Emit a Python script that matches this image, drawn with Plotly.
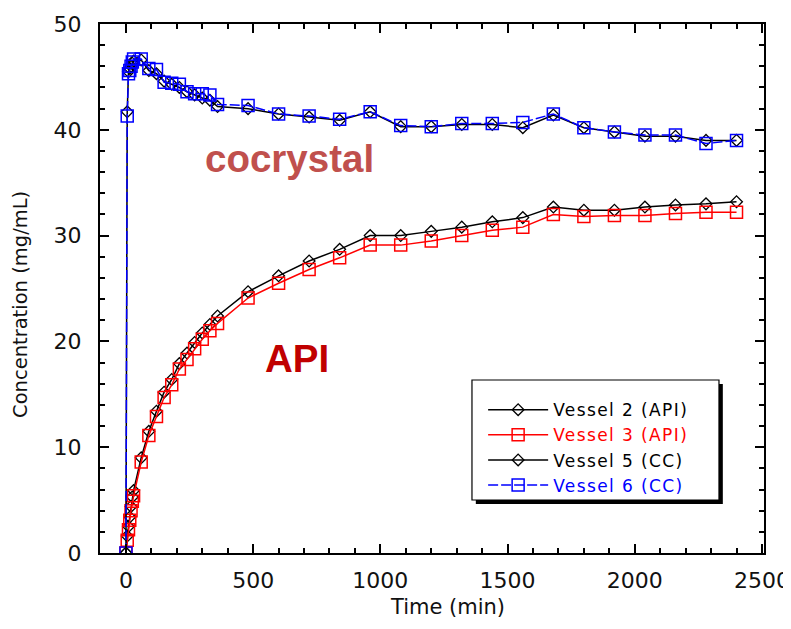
import plotly.graph_objects as go

time = [0, 5, 10, 15, 20, 25, 30, 60, 90, 120, 150, 180, 210, 240, 270, 300, 330, 360,
        480, 600, 720, 840, 960, 1080, 1200, 1320, 1440, 1560, 1680, 1800, 1920, 2040,
        2160, 2280, 2400]

vessel2_api = [0, 1.6, 2.5, 3.4, 4.4, 5.3, 5.9, 9.0, 11.5, 13.4, 15.2, 16.4, 17.9, 18.9,
               19.9, 20.8, 21.6, 22.4, 24.7, 26.2, 27.6, 28.7, 30.0, 30.0, 30.4, 30.8,
               31.3, 31.7, 32.7, 32.4, 32.4, 32.7, 32.9, 33.0, 33.2]
vessel3_api = [0, 1.2, 2.2, 3.1, 4.0, 4.9, 5.4, 8.6, 11.1, 12.9, 14.7, 15.9, 17.4, 18.3,
               19.3, 20.2, 21.0, 21.7, 24.1, 25.5, 26.8, 27.9, 29.1, 29.1, 29.5, 30.0,
               30.5, 30.8, 32.0, 31.8, 31.9, 31.9, 32.1, 32.2, 32.2]
vessel5_cc = [0, 41.7, 45.5, 45.8, 46.0, 46.3, 46.5, 46.6, 45.6, 45.3, 44.6, 44.3, 44.0,
              43.6, 43.3, 43.0, 42.8, 42.2, 42.0, 41.5, 41.2, 40.9, 41.7, 40.3, 40.3,
              40.5, 40.5, 40.2, 41.4, 40.2, 39.8, 39.4, 39.4, 39.0, 39.0]
vessel6_cc = [0, 41.3, 45.3, 45.6, 46.0, 46.4, 46.7, 46.7, 45.8, 45.7, 44.5, 44.4, 44.3,
              43.6, 43.4, 43.4, 43.3, 42.4, 42.3, 41.5, 41.3, 41.0, 41.7, 40.4, 40.3,
              40.6, 40.6, 40.7, 41.5, 40.2, 39.8, 39.5, 39.5, 38.7, 39.0]

names = ["Vessel 2 (API)", "Vessel 3 (API)", "Vessel 5 (CC)", "Vessel 6 (CC)"]
x_title = "Time (min)"
y_title = "Concentration (mg/mL)"

FONT = "DejaVu Sans, Verdana, sans-serif"
BOLD = "Liberation Sans, Arial, sans-serif"


def legend_name(text, color):
    return f"<span style='color:{color};letter-spacing:1.4px'>{text}</span>"


fig = go.Figure()
fig.add_trace(go.Scatter(
    x=time, y=vessel2_api, mode="lines+markers",
    name=legend_name(names[0], "#000000"),
    line=dict(color="black", width=1.5),
    marker=dict(symbol="diamond-open", size=9, color="black", line=dict(width=1.3))))
fig.add_trace(go.Scatter(
    x=time, y=vessel3_api, mode="lines+markers",
    name=legend_name(names[1], "#ff0000"),
    line=dict(color="#ff0000", width=1.5),
    marker=dict(symbol="square-open", size=12, color="#ff0000", line=dict(width=1.5))))
fig.add_trace(go.Scatter(
    x=time, y=vessel5_cc, mode="lines+markers",
    name=legend_name(names[2], "#000000"),
    line=dict(color="black", width=1.5),
    marker=dict(symbol="diamond-open", size=9, color="black", line=dict(width=1.3))))
fig.add_trace(go.Scatter(
    x=time, y=vessel6_cc, mode="lines+markers",
    name=legend_name(names[3], "#0000ff"),
    line=dict(color="#0000ff", width=1.5, dash="10px,3px"),
    marker=dict(symbol="square-open", size=12, color="#0000ff", line=dict(width=1.5))))

fig.add_annotation(x=644, y=37.3, xref="x", yref="y", text="<b>cocrystal</b>",
                   showarrow=False, font=dict(family=BOLD, size=38.5, color="#C0504D"))
fig.add_annotation(x=671, y=18.4, xref="x", yref="y", text="<b>API</b>",
                   showarrow=False, font=dict(family=BOLD, size=38.5, color="#C00000"))

# axis titles
fig.add_annotation(x=0.5226, y=-0.102, xref="paper", yref="paper", text=x_title,
                   showarrow=False, xanchor="center", yanchor="middle",
                   font=dict(family=FONT, size=21, color="#111111"))
fig.add_annotation(x=-0.119, y=0.4707, xref="paper", yref="paper", text=y_title,
                   showarrow=False, textangle=-90, xanchor="center", yanchor="middle",
                   font=dict(family=FONT, size=19.5, color="#111111"))

# legend box with shadow
fig.add_shape(type="rect", xref="paper", yref="paper", x0=0.566, x1=0.938, y0=0.0926, y1=0.3195,
              fillcolor="black", line=dict(width=0), layer="above")
fig.add_shape(type="rect", xref="paper", yref="paper", x0=0.5602, x1=0.9322, y0=0.1002, y1=0.327,
              fillcolor="white", line=dict(color="black", width=1.2), layer="above")

axis_common = dict(showline=True, linecolor="black", linewidth=2, mirror="allticks",
                   ticks="inside", ticklen=9, tickwidth=1.5, tickcolor="black",
                   showgrid=False, zeroline=False,
                   tickfont=dict(family=FONT, size=22, color="#111111"))

fig.update_xaxes(range=[-102, 2508], tickvals=[0, 500, 1000, 1500, 2000, 2500],
                 ticklabelstandoff=7,
                 minor=dict(dtick=100, tick0=0, ticks="inside", ticklen=5, tickwidth=1.5,
                            tickcolor="black", showgrid=False),
                 **axis_common)
fig.update_yaxes(range=[0, 50], tickvals=[0, 10, 20, 30, 40, 50],
                 ticklabelstandoff=12,
                 minor=dict(dtick=2, tick0=0, ticks="inside", ticklen=5, tickwidth=1.5,
                            tickcolor="black", showgrid=False),
                 **axis_common)

fig.update_layout(
    width=791, height=629,
    margin=dict(l=92, r=35, t=16, b=84, autoexpand=False),
    paper_bgcolor="white", plot_bgcolor="white",
    showlegend=True,
    legend=dict(x=0.577, y=0.304, xanchor="left", yanchor="top",
                bgcolor="rgba(0,0,0,0)", borderwidth=0,
                font=dict(family=FONT, size=17), itemwidth=60, tracegroupgap=0),
)

fig.write_html("out.html")
